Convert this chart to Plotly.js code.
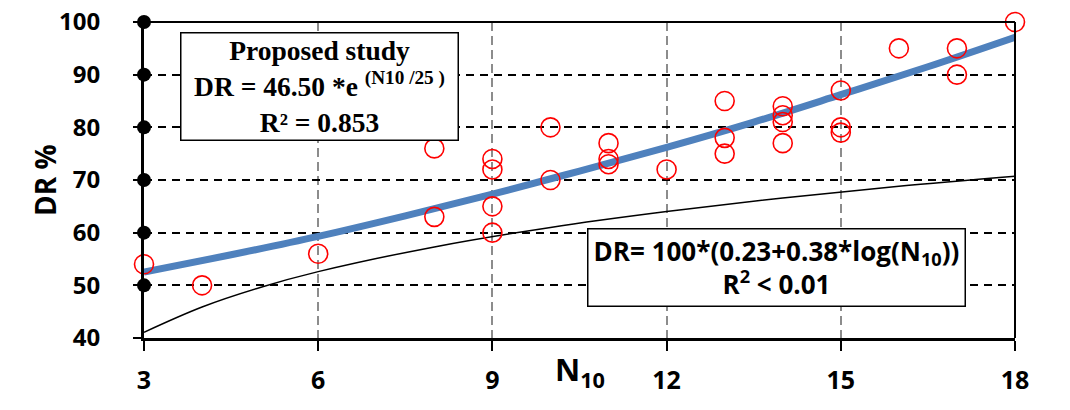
<!DOCTYPE html>
<html><head><meta charset="utf-8">
<script src="https://cdn.plot.ly/plotly-3.0.1.min.js"></script>
<style>html,body{margin:0;padding:0;background:#fff}#chart{width:1070px;height:410px}</style>
</head><body><div id="chart"></div>
<script>
// Measured data (N10, DR%)
const obsN10 = [3,4,6,8,8,9,9,9,9,10,10,11,11,11,12,13,13,13,14,14,14,14,15,15,15,16,17,17,18];
const obsDR  = [54,50,56,76,63,74,72,65,60,80,70,77,74,73,72,85,78,75,84,82.3,81,77,87,80,79,95,95,90,100];
// Proposed study curve
const propN10 = [3,4.5,6,7.5,9,10.5,12,13.5,15,16.5,18];
const propDR  = [52.5,55.8,59.3,63.2,67.3,71.7,76.2,81.0,86.2,91.5,97.1];
// Log curve
const logN10 = [3,4,5,6,8,10,12,14,16,18];
const logDR  = [41.1,45.9,49.6,52.6,57.3,61.0,64.0,66.6,68.8,70.7];
// Axis dot markers
const dotN10 = [3,3,3,3,3,3];
const dotDR  = [50,60,70,80,90,100];
const xTicks = [3,6,9,12,15,18];
const yTicks = [40,50,60,70,80,90,100];

const traces = [
  {x: logN10, y: logDR, mode:'lines', line:{color:'#000', width:1.5, shape:'spline'}, cliponaxis:false},
  {x: propN10, y: propDR, mode:'lines', line:{color:'#4f81bd', width:7, shape:'spline'}, cliponaxis:false},
  {x: dotN10, y: dotDR, mode:'markers', marker:{color:'#000', size:14}, cliponaxis:false},
  {x: obsN10, y: obsDR, mode:'markers', marker:{symbol:'circle-open', color:'#ff0000', size:19, line:{width:1.6, color:'#ff0000'}}, cliponaxis:false}
];

const layout = {
  width:1070, height:410,
  margin:{l:144, r:55, t:22, b:72},
  paper_bgcolor:'#fff', plot_bgcolor:'#fff',
  showlegend:false,
  xaxis:{range:[3,18], tickvals:xTicks, ticktext:xTicks.map(String), showgrid:true, gridcolor:'#8c8c8c', griddash:'9px,5px', gridwidth:2,
    zeroline:false, showline:true, linecolor:'#000', linewidth:3, ticks:'outside', ticklen:10, tickwidth:2, tickcolor:'#000',
    tickfont:{family:'Open Sans, sans-serif', size:25, color:'#000', weight:'bold'}, ticklabelstandoff:8},
  yaxis:{range:[40,100], tickvals:yTicks, ticktext:yTicks.map(String), showgrid:true, gridcolor:'#000', griddash:'8px,6px', gridwidth:2,
    zeroline:false, showline:true, linecolor:'#000', linewidth:3, ticks:'outside', ticklen:8, tickwidth:2, tickcolor:'#000',
    tickfont:{family:'Open Sans, sans-serif', size:24, color:'#000', weight:'bold'}, ticklabelstandoff:28},
  shapes:[
    {type:'line', xref:'paper', yref:'paper', x0:0, x1:1, y0:1, y1:1, line:{color:'#000', width:2}},
    {type:'line', xref:'paper', yref:'paper', x0:1, x1:1, y0:0, y1:1, line:{color:'#000', width:2}}
  ],
  annotations:[
    {xref:'paper', yref:'paper', x:(45-144)/871, y:0.5, xanchor:'center', yanchor:'middle', text:'<b>DR %</b>', textangle:-90, showarrow:false,
      font:{family:'Open Sans, sans-serif', size:28, color:'#000'}},
    {xref:'paper', yref:'paper', x:(580-144)/871, y:(338-396)/316, xanchor:'center', yanchor:'bottom', text:'<b>N<sub>10</sub></b>', showarrow:false,
      font:{family:'Open Sans, sans-serif', size:31, color:'#000'}},
    {xref:'paper', yref:'paper', x:(319-144)/871, y:(338-86)/316, xanchor:'center', yanchor:'middle', showarrow:false,
      text:'<b>Proposed study<br>DR = 46.50 *e <sup>(N10 /25 )</sup><br>R² = 0.853</b>', align:'center',
      font:{family:'Liberation Serif, serif', size:27.5, color:'#000'}, bgcolor:'#fff', bordercolor:'#000', borderwidth:1.5,
      width:276, height:106, borderpad:0},
    {xref:'paper', yref:'paper', x:(776-144)/871, y:(338-267)/316, xanchor:'center', yanchor:'middle', showarrow:false,
      text:'<b>DR= 100*(0.23+0.38*log(N<sub>10</sub>))<br>R<sup>2</sup> < 0.01</b>', align:'center',
      font:{family:'Open Sans, sans-serif', size:26, color:'#000'}, bgcolor:'#fff', bordercolor:'#000', borderwidth:1.5,
      width:376, height:76, borderpad:0}
  ]
};
Plotly.newPlot('chart', traces, layout, {displayModeBar:false, staticPlot:true});
</script></body></html>
